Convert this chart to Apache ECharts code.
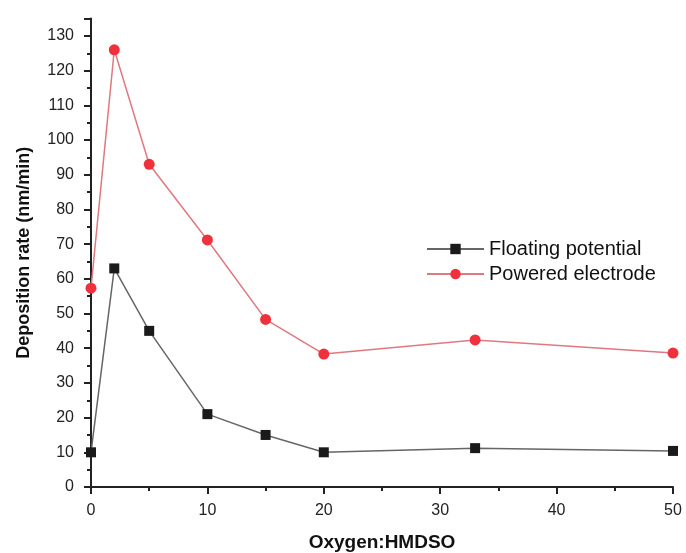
<!DOCTYPE html>
<html>
<head>
<meta charset="utf-8">
<script src="https://cdn.jsdelivr.net/npm/echarts@6/dist/echarts.min.js"></script>
<style>
  html, body { margin: 0; padding: 0; background: #fff; }
  #chart { width: 686px; height: 553px; }
</style>
</head>
<body>
<div id="chart"></div>
<script>
// Oxygen:HMDSO ratio
const ratios = [0, 2, 5, 10, 15, 20, 33, 50];
// Deposition rate (nm/min)
const floatingPotential = [10, 63, 45, 21, 15, 10, 11.2, 10.4];
const poweredElectrode = [57.3, 126, 93, 71.2, 48.3, 38.3, 42.4, 38.6];

const seriesNames = ['Floating potential', 'Powered electrode'];

const pair = (xs, ys) => xs.map((x, i) => [x, ys[i]]);
const font = 'Liberation Sans, Arial, sans-serif';

const chart = echarts.init(document.getElementById('chart'));
chart.setOption({
  animation: false,
  backgroundColor: '#ffffff',
  grid: {
    left: 91, right: 13, top: 18.6, bottom: 66,
    containLabel: false,
    outerBoundsMode: 'none'
  },
  legend: {
    data: seriesNames,
    orient: 'vertical',
    left: 421,
    top: 234,
    itemWidth: 57,
    itemHeight: 13,
    itemGap: 5,
    textStyle: { fontFamily: font, fontSize: 20, color: '#111' }
  },
  xAxis: {
    type: 'value',
    min: 0, max: 50, interval: 10,
    name: 'Oxygen:HMDSO',
    nameLocation: 'middle',
    nameGap: 46,
    nameTextStyle: { fontFamily: font, fontSize: 19, fontWeight: 'bold', color: '#111' },
    axisLine: { lineStyle: { color: '#222', width: 2 } },
    axisTick: { length: 7, lineStyle: { color: '#222', width: 2 } },
    minorTick: { show: true, splitNumber: 2, length: 4, lineStyle: { color: '#222', width: 2 } },
    axisLabel: { fontFamily: font, fontSize: 16, color: '#222', margin: 16 },
    splitLine: { show: false }
  },
  yAxis: {
    type: 'value',
    min: 0, max: 135, interval: 10,
    name: 'Deposition rate (nm/min)',
    nameLocation: 'middle',
    nameGap: 58,
    nameRotate: 90,
    nameTextStyle: { fontFamily: font, fontSize: 18, fontWeight: 'bold', color: '#111' },
    axisLine: { lineStyle: { color: '#222', width: 2 } },
    axisTick: { length: 7, lineStyle: { color: '#222', width: 2 } },
    minorTick: { show: true, splitNumber: 2, length: 4, lineStyle: { color: '#222', width: 2 } },
    axisLabel: { fontFamily: font, fontSize: 16, color: '#222', margin: 17, showMaxLabel: false },
    splitLine: { show: false }
  },
  series: [
    {
      name: seriesNames[0],
      type: 'line',
      data: pair(ratios, floatingPotential),
      symbol: 'rect',
      symbolSize: 10,
      itemStyle: { color: '#1a1a1a' },
      lineStyle: { color: '#666', width: 1.5 },
      z: 3
    },
    {
      name: seriesNames[1],
      type: 'line',
      data: pair(ratios, poweredElectrode),
      symbol: 'circle',
      symbolSize: 11,
      itemStyle: { color: '#f0303c' },
      lineStyle: { color: '#e07880', width: 1.5 },
      z: 2
    }
  ]
});
</script>
</body>
</html>
